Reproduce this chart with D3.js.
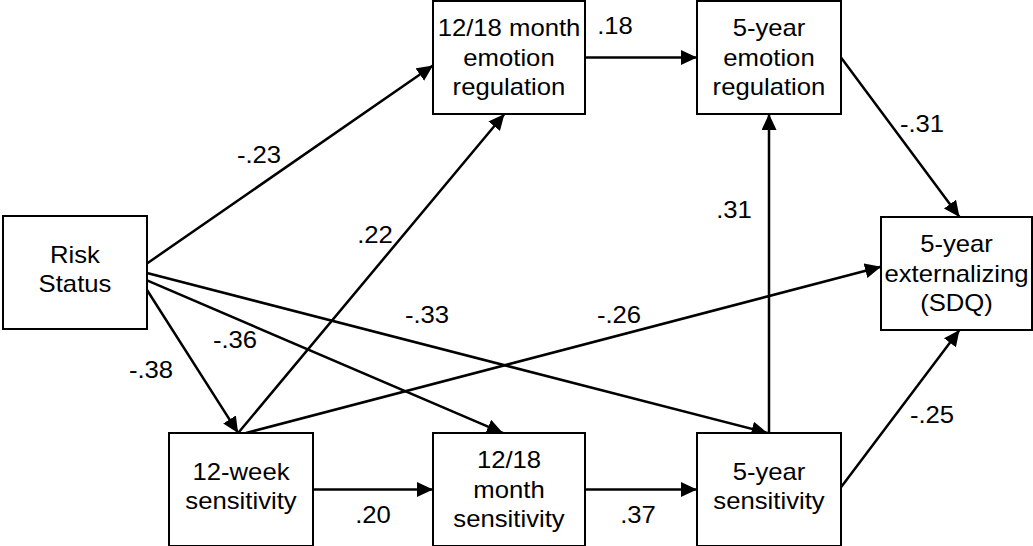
<!DOCTYPE html>
<html>
<head>
<meta charset="utf-8">
<script src="https://cdn.jsdelivr.net/npm/d3@7"></script>
<style>
  body { margin: 0; background: #fff; }
  text { font-family: "Liberation Sans", Arial, sans-serif; fill: #000; }
</style>
</head>
<body>
<script>
var width = 1033,
    height = 546;

// variables (boxes)
var nodeIds = ["risk", "er1218", "er5", "ext", "w12", "s1218", "s5"];
var nodeLabels = [
  ["Risk", "Status"],
  ["12/18 month", "emotion", "regulation"],
  ["5-year", "emotion", "regulation"],
  ["5-year", "externalizing", "(SDQ)"],
  ["12-week", "sensitivity"],
  ["12/18", "month", "sensitivity"],
  ["5-year", "sensitivity"]
];

// paths and their coefficients
var edgeFrom = ["risk", "risk", "risk", "risk", "w12", "w12", "w12", "s1218", "er1218", "s5", "er5", "s5"];
var edgeTo   = ["er1218", "w12", "s1218", "s5", "er1218", "ext", "s1218", "s5", "er5", "er5", "ext", "ext"];
var coefs    = ["-.23", "-.38", "-.36", "-.33", ".22", "-.26", ".20", ".37", ".18", ".31", "-.31", "-.25"];

// layout of the boxes (x, y, w, h)
var layout = {
  risk:   [3, 216, 144, 113],
  er1218: [433, 1, 152, 113],
  er5:    [697, 1, 144, 113],
  ext:    [881, 217, 151, 113],
  w12:    [169, 433, 144, 113],
  s1218:  [433, 433, 152, 113],
  s5:     [697, 433, 144, 113]
};

// where each path leaves / enters a box: side + fraction along side
var fromAnchor = [["r",.42],["r",.655],["r",.57],["r",.505],["t",.48],["t",.535],["r",.5],["r",.5],["r",.5],["t",.5],["r",.5],["r",.48]];
var toAnchor   = [["l",.57],["t",.48],["t",.46],["t",.49],["b",.47],["l",.44],["l",.5],["l",.5],["l",.5],["b",.5],["t",.52],["b",.52]];

// label positions (centre x, baseline y)
var labelPos = [[259,163],[151,378],[235,348],[427,323],[375,243],[619,323],[373,523],[638,523],[615,34],[734,218],[922,132],[932,423]];

var fs = 24, lh = 29.5, sx = 1.07;

var svg = d3.select("body")
    .append("svg")
    .attr("width", width)
    .attr("height", height);

svg.append("defs").append("marker")
    .attr("id", "arrow")
    .attr("markerUnits", "userSpaceOnUse")
    .attr("markerWidth", 17)
    .attr("markerHeight", 16)
    .attr("refX", 16)
    .attr("refY", 7.5)
    .attr("orient", "auto")
  .append("path")
    .attr("d", "M0,0L16,7.5L0,15Z")
    .attr("fill", "#000");

function anchor(id, a) {
  var b = layout[id], s = a[0], t = a[1];
  if (s == "l") return [b[0], b[1] + t * b[3]];
  if (s == "r") return [b[0] + b[2], b[1] + t * b[3]];
  if (s == "t") return [b[0] + t * b[2], b[1]];
  return [b[0] + t * b[2], b[1] + b[3]];
}

var edges = edgeFrom.map(function(f, i) {
  var p0 = anchor(f, fromAnchor[i]), p1 = anchor(edgeTo[i], toAnchor[i]);
  return {p0: p0, p1: p1, coef: coefs[i], lp: labelPos[i]};
});

// paths
svg.selectAll(".edge")
  .data(edges)
  .enter().append("path")
    .attr("class", "edge")
    .attr("d", function(d) {
      var dx = d.p1[0] - d.p0[0], dy = d.p1[1] - d.p0[1];
      var L = Math.sqrt(dx * dx + dy * dy), k = (L - 1) / L;
      // line itself stops just short; marker drawn at true tip
      return d3.line()([d.p0, [d.p0[0] + dx * k, d.p0[1] + dy * k], d.p1]);
    })
    .attr("fill", "none")
    .attr("stroke", "#000")
    .attr("stroke-width", 2.5)
    .attr("marker-end", "url(#arrow)");

// boxes
var node = svg.selectAll(".node")
  .data(nodeIds)
  .enter().append("g")
    .attr("class", "node");

node.append("rect")
    .attr("x", function(d) { return layout[d][0]; })
    .attr("y", function(d) { return layout[d][1]; })
    .attr("width", function(d) { return layout[d][2]; })
    .attr("height", function(d) { return layout[d][3]; })
    .attr("fill", "#fff")
    .attr("stroke", "#000")
    .attr("stroke-width", 2);

node.each(function(d, i) {
  var b = layout[d], lines = nodeLabels[i];
  var cx = b[0] + b[2] / 2, cy = b[1] + b[3] / 2;
  var y0 = cy + 8 - (lines.length - 1) / 2 * lh + (lines.length == 2 ? -3 : 0);
  d3.select(this).selectAll("text")
    .data(lines)
    .enter().append("text")
      .attr("text-anchor", "middle")
      .attr("font-size", fs)
      .attr("transform", function(t, j) {
        return "translate(" + cx + "," + (y0 + j * lh) + ") scale(" + sx + ",1)";
      })
      .text(function(t) { return t; });
});

// coefficients
svg.selectAll(".coef")
  .data(edges)
  .enter().append("text")
    .attr("class", "coef")
    .attr("text-anchor", "middle")
    .attr("font-size", fs)
    .attr("transform", function(d) { return "translate(" + d.lp[0] + "," + d.lp[1] + ") scale(" + sx + ",1)"; })
    .text(function(d) { return d.coef; });
</script>
</body>
</html>
